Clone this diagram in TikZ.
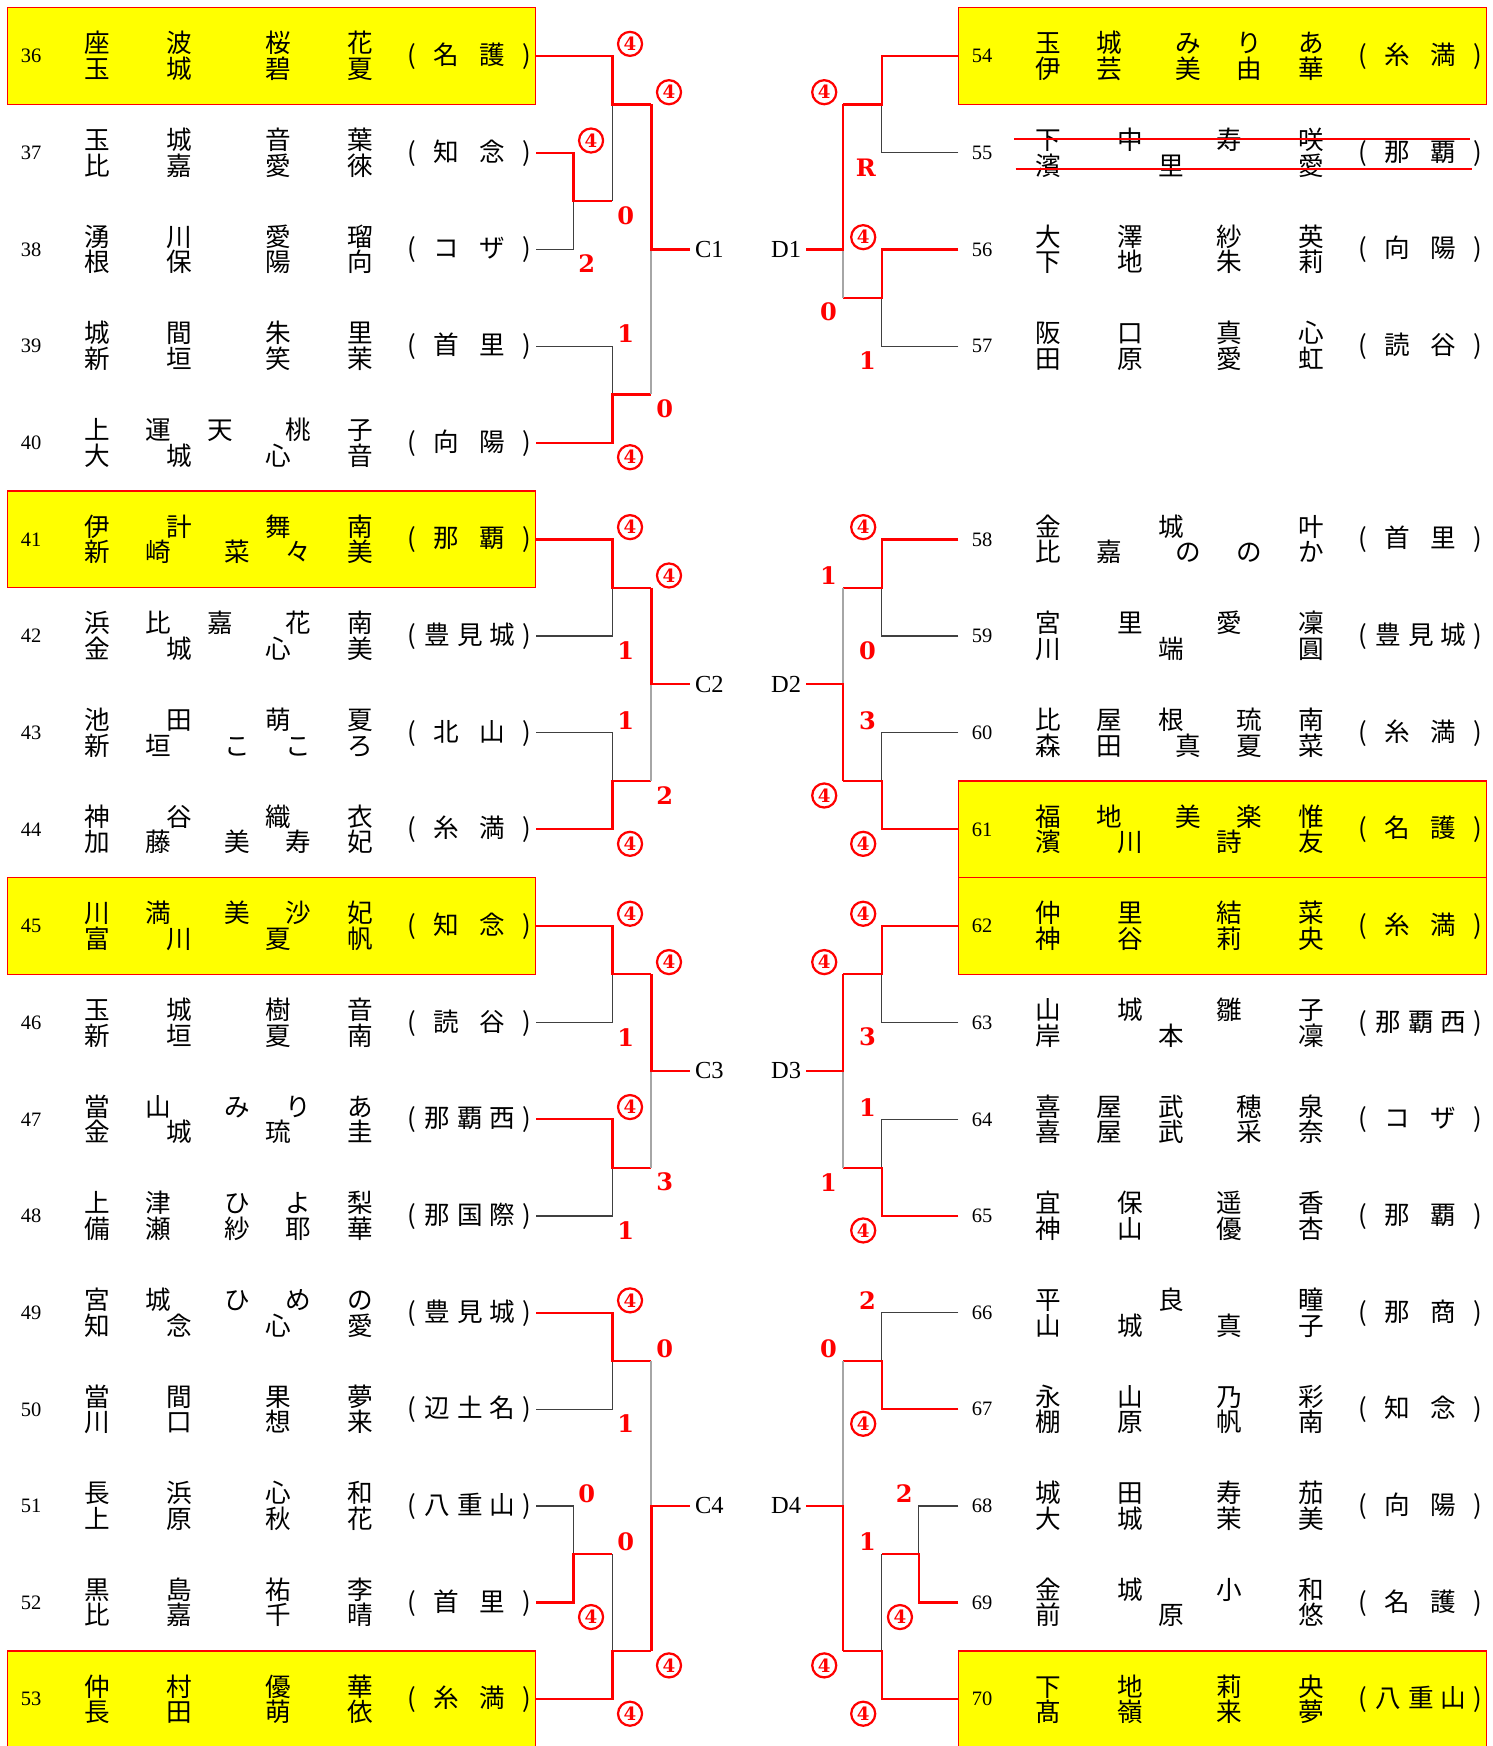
\documentclass[tikz,border=0pt]{standalone}
\usepackage{fontspec}
\setmainfont{Liberation Serif}
\newfontfamily\jpfont{Noto Sans CJK JP}
\newfontfamily\scfont{DejaVu Serif}
\usetikzlibrary{positioning}
\definecolor{hilite}{HTML}{FFFF00}
\definecolor{redline}{HTML}{FF0000}

% half-row grid
\tikzset{declare function={hh(\n)=50.4+43.4*\n;}}

% name lines: 2+2, 3+2, 2+3, 1+1+1
\newcommand\nfour[4]{\foreach \px/\ch [count=\ci] in {87/#1,161/#2,250/#3,324/#4}{\node[jp] (\eid\lnid\ci) at (\px+\xo,\ly) {\ch};}}
\newcommand\nfivea[5]{\foreach \px/\ch [count=\ci] in {87/#1,142/#2,198/#3,268/#4,324/#5}{\node[jp] (\eid\lnid\ci) at (\px+\xo,\ly) {\ch};}}
\newcommand\nfiveb[5]{\foreach \px/\ch [count=\ci] in {87/#1,142/#2,213/#3,268/#4,324/#5}{\node[jp] (\eid\lnid\ci) at (\px+\xo,\ly) {\ch};}}
\newcommand\nthree[3]{\foreach \px/\ch [count=\ci] in {87/#1,198/#2,324/#3}{\node[jp] (\eid\lnid\ci) at (\px+\xo,\ly) {\ch};}}
% school
\newcommand\sctwo[2]{\foreach \px/\ch [count=\ci] in {370/(,401/#1,442/#2,473/)}{\node[jp] (\eid s\ci) at (\px+\xo,\ly) {\ch};}}
\newcommand\scthree[3]{\foreach \px/\ch [count=\ci] in {370/(,393/#1,422/#2,451/#3,473/)}{\node[jp] (\eid s\ci) at (\px+\xo,\ly) {\ch};}}

% one entry row: id, side offset, row, style, top name, bottom name, school
\newcommand\entry[7]{%
  \pgfmathsetmacro\yy{50.4+86.8*#3}%
  \def\xo{#2}\def\eid{t#1}%
  \node[#4] (e#1) at (244+#2,\yy) {};
  \node[num] (n#1) at (28+#2,\yy) {#1};
  \pgfmathsetmacro\ly{\yy-10.5}\def\lnid{a}#5
  \pgfmathsetmacro\ly{\yy+12.5}\def\lnid{b}#6
  \pgfmathsetmacro\ly{\yy}#7
}

% scores (optional style: ring)
\newcommand\sctl[5][]{\node[sco,#1,anchor=west] (#2) at (#3+4,{hh(#4)-11}) {#5};}
\newcommand\scbl[5][]{\node[sco,#1,anchor=west] (#2) at (#3+4,{hh(#4)+13}) {#5};}
\newcommand\sctr[5][]{\node[sco,#1,anchor=east] (#2) at (#3-5,{hh(#4)-11}) {#5};}
\newcommand\scbr[5][]{\node[sco,#1,anchor=east] (#2) at (#3-5,{hh(#4)+13}) {#5};}

\begin{document}
\begin{tikzpicture}[x=0.5pt,y=-0.5pt,
  jp/.style={font=\jpfont\fontsize{11.5}{12}\selectfont, inner sep=0pt, text height=0.88em, text depth=0.12em},
  num/.style={font=\fontsize{9.2}{10}\selectfont, inner sep=0pt},
  seed/.style={draw=redline, fill=hilite, line width=0.6pt, minimum width=237pt, minimum height=43.4pt, inner sep=0pt},
  slot/.style={minimum width=237pt, minimum height=43.4pt, inner sep=0pt},
  win/.style={draw=redline, line width=1pt},
  lose/.style={draw=black!75, line width=0.5pt},
  fade/.style={draw=black!35, line width=0.9pt},
  sco/.style={text=redline, inner sep=0pt, font=\scfont\bfseries\fontsize{10.8}{11}\selectfont},
  ring/.style={circle, draw=redline, line width=1pt, minimum size=10.8pt, font=\scfont\bfseries\fontsize{8.2}{9}\selectfont},
  blk/.style={font=\fontsize{11}{12}\selectfont, inner sep=2pt},
  strike/.style={draw=redline, line width=0.8pt},
]
\useasboundingbox (0,0) rectangle (1340,1568);

% left block
\entry{36}{0}{0}{seed}{\nfour 座波桜花}{\nfour 玉城碧夏}{\sctwo 名護}
\entry{37}{0}{1}{slot}{\nfour 玉城音葉}{\nfour 比嘉愛徠}{\sctwo 知念}
\entry{38}{0}{2}{slot}{\nfour 湧川愛瑠}{\nfour 根保陽向}{\sctwo コザ}
\entry{39}{0}{3}{slot}{\nfour 城間朱里}{\nfour 新垣笑茉}{\sctwo 首里}
\entry{40}{0}{4}{slot}{\nfivea 上運天桃子}{\nfour 大城心音}{\sctwo 向陽}
\entry{41}{0}{5}{seed}{\nfour 伊計舞南}{\nfiveb 新崎菜々美}{\sctwo 那覇}
\entry{42}{0}{6}{slot}{\nfivea 浜比嘉花南}{\nfour 金城心美}{\scthree 豊見城}
\entry{43}{0}{7}{slot}{\nfour 池田萌夏}{\nfiveb 新垣こころ}{\sctwo 北山}
\entry{44}{0}{8}{slot}{\nfour 神谷織衣}{\nfiveb 加藤美寿妃}{\sctwo 糸満}
\entry{45}{0}{9}{seed}{\nfiveb 川満美沙妃}{\nfour 富川夏帆}{\sctwo 知念}
\entry{46}{0}{10}{slot}{\nfour 玉城樹音}{\nfour 新垣夏南}{\sctwo 読谷}
\entry{47}{0}{11}{slot}{\nfiveb 當山みりあ}{\nfour 金城琉圭}{\scthree 那覇西}
\entry{48}{0}{12}{slot}{\nfiveb 上津ひよ梨}{\nfiveb 備瀬紗耶華}{\scthree 那国際}
\entry{49}{0}{13}{slot}{\nfiveb 宮城ひめの}{\nfour 知念心愛}{\scthree 豊見城}
\entry{50}{0}{14}{slot}{\nfour 當間果夢}{\nfour 川口想来}{\scthree 辺土名}
\entry{51}{0}{15}{slot}{\nfour 長浜心和}{\nfour 上原秋花}{\scthree 八重山}
\entry{52}{0}{16}{slot}{\nfour 黒島祐李}{\nfour 比嘉千晴}{\sctwo 首里}
\entry{53}{0}{17}{seed}{\nfour 仲村優華}{\nfour 長田萌依}{\sctwo 糸満}

% right block
\entry{54}{854}{0}{seed}{\nfiveb 玉城みりあ}{\nfiveb 伊芸美由華}{\sctwo 糸満}
\entry{55}{854}{1}{slot}{\nfour 下中寿咲}{\nthree 濱里愛}{\sctwo 那覇}
\entry{56}{854}{2}{slot}{\nfour 大澤紗英}{\nfour 下地朱莉}{\sctwo 向陽}
\entry{57}{854}{3}{slot}{\nfour 阪口真心}{\nfour 田原愛虹}{\sctwo 読谷}
\entry{58}{854}{5}{slot}{\nthree 金城叶}{\nfiveb 比嘉ののか}{\sctwo 首里}
\entry{59}{854}{6}{slot}{\nfour 宮里愛凜}{\nthree 川端圓}{\scthree 豊見城}
\entry{60}{854}{7}{slot}{\nfivea 比屋根琉南}{\nfiveb 森田真夏菜}{\sctwo 糸満}
\entry{61}{854}{8}{seed}{\nfiveb 福地美楽惟}{\nfour 濱川詩友}{\sctwo 名護}
\entry{62}{854}{9}{seed}{\nfour 仲里結菜}{\nfour 神谷莉央}{\sctwo 糸満}
\entry{63}{854}{10}{slot}{\nfour 山城雛子}{\nthree 岸本凜}{\scthree 那覇西}
\entry{64}{854}{11}{slot}{\nfivea 喜屋武穂泉}{\nfivea 喜屋武采奈}{\sctwo コザ}
\entry{65}{854}{12}{slot}{\nfour 宜保遥香}{\nfour 神山優杏}{\sctwo 那覇}
\entry{66}{854}{13}{slot}{\nthree 平良瞳}{\nfour 山城真子}{\sctwo 那商}
\entry{67}{854}{14}{slot}{\nfour 永山乃彩}{\nfour 棚原帆南}{\sctwo 知念}
\entry{68}{854}{15}{slot}{\nfour 城田寿茄}{\nfour 大城茉美}{\sctwo 向陽}
\entry{69}{854}{16}{slot}{\nfour 金城小和}{\nthree 前原悠}{\sctwo 名護}
\entry{70}{854}{17}{seed}{\nfour 下地莉央}{\nfour 髙嶺来夢}{\scthree 八重山}

% withdrawn pair
\draw[strike] (911,124.5) -- (1320,124.5);
\draw[strike] (912,152) -- (1322,152);

% block labels
\node[blk] (c1) at (637,{hh(4)}) {C1};
\node[blk] (c2) at (637,{hh(13)}) {C2};
\node[blk] (c3) at (637,{hh(21)}) {C3};
\node[blk] (c4) at (637,{hh(30)}) {C4};
\node[blk] (d1) at (706,{hh(4)}) {D1};
\node[blk] (d2) at (706,{hh(13)}) {D2};
\node[blk] (d3) at (706,{hh(21)}) {D3};
\node[blk] (d4) at (706,{hh(30)}) {D4};

% C1
\draw[lose] (e38.east) -| (515,{hh(3)});
\draw[win] (e37.east) -| (515,{hh(3)}) -- (550,{hh(3)});
\draw[lose] (550,{hh(3)}) -- (550,{hh(1)});
\draw[win] (e36.east) -| (550,{hh(1)}) -- (585,{hh(1)});
\draw[lose] (e39.east) -| (550,{hh(7)});
\draw[win] (e40.east) -| (550,{hh(7)}) -- (585,{hh(7)});
\draw[fade] (585,{hh(7)}) -- (585,{hh(4)});
\draw[win] (585,{hh(1)}) |- (c1.west);
% C2
\draw[lose] (e42.east) -| (550,{hh(11)});
\draw[win] (e41.east) -| (550,{hh(11)}) -- (585,{hh(11)});
\draw[lose] (e43.east) -| (550,{hh(15)});
\draw[win] (e44.east) -| (550,{hh(15)}) -- (585,{hh(15)});
\draw[fade] (585,{hh(15)}) -- (585,{hh(13)});
\draw[win] (585,{hh(11)}) |- (c2.west);
% C3
\draw[lose] (e46.east) -| (550,{hh(19)});
\draw[win] (e45.east) -| (550,{hh(19)}) -- (585,{hh(19)});
\draw[lose] (e48.east) -| (550,{hh(23)});
\draw[win] (e47.east) -| (550,{hh(23)}) -- (585,{hh(23)});
\draw[fade] (585,{hh(23)}) -- (585,{hh(21)});
\draw[win] (585,{hh(19)}) |- (c3.west);
% C4
\draw[lose] (e50.east) -| (550,{hh(27)});
\draw[win] (e49.east) -| (550,{hh(27)}) -- (585,{hh(27)});
\draw[lose] (e51.east) -| (515,{hh(31)});
\draw[win] (e52.east) -| (515,{hh(31)}) -- (550,{hh(31)});
\draw[lose] (550,{hh(31)}) -- (550,{hh(33)});
\draw[win] (e53.east) -| (550,{hh(33)}) -- (585,{hh(33)});
\draw[fade] (585,{hh(27)}) -- (585,{hh(30)});
\draw[win] (585,{hh(33)}) |- (c4.west);

% D1
\draw[lose] (e55.west) -| (792,{hh(1)});
\draw[win] (e54.west) -| (792,{hh(1)}) -- (757,{hh(1)});
\draw[lose] (e57.west) -| (792,{hh(5)});
\draw[win] (e56.west) -| (792,{hh(5)}) -- (757,{hh(5)});
\draw[fade] (757,{hh(5)}) -- (757,{hh(4)});
\draw[win] (757,{hh(1)}) |- (d1.east);
% D2
\draw[lose] (e59.west) -| (792,{hh(11)});
\draw[win] (e58.west) -| (792,{hh(11)}) -- (757,{hh(11)});
\draw[lose] (e60.west) -| (792,{hh(15)});
\draw[win] (e61.west) -| (792,{hh(15)}) -- (757,{hh(15)});
\draw[fade] (757,{hh(11)}) -- (757,{hh(13)});
\draw[win] (757,{hh(15)}) |- (d2.east);
% D3
\draw[lose] (e63.west) -| (792,{hh(19)});
\draw[win] (e62.west) -| (792,{hh(19)}) -- (757,{hh(19)});
\draw[lose] (e64.west) -| (792,{hh(23)});
\draw[win] (e65.west) -| (792,{hh(23)}) -- (757,{hh(23)});
\draw[fade] (757,{hh(23)}) -- (757,{hh(21)});
\draw[win] (757,{hh(19)}) |- (d3.east);
% D4
\draw[lose] (e66.west) -| (792,{hh(27)});
\draw[win] (e67.west) -| (792,{hh(27)}) -- (757,{hh(27)});
\draw[lose] (e68.west) -| (825,{hh(31)});
\draw[win] (e69.west) -| (825,{hh(31)}) -- (792,{hh(31)});
\draw[lose] (792,{hh(31)}) -- (792,{hh(33)});
\draw[win] (e70.west) -| (792,{hh(33)}) -- (757,{hh(33)});
\draw[fade] (757,{hh(27)}) -- (757,{hh(30)});
\draw[win] (757,{hh(33)}) |- (d4.east);

% scores, left
\sctl[ring]{s1}{515}{2}{4}  \scbl{s2}{515}{4}{2}
\sctl[ring]{s3}{550}{0}{4}  \scbl{s4}{550}{3}{0}
\sctl{s5}{550}{6}{1}        \scbl[ring]{s6}{550}{8}{4}
\sctl[ring]{s7}{585}{1}{4}  \scbl{s8}{585}{7}{0}
\sctl[ring]{s9}{550}{10}{4} \scbl{s10}{550}{12}{1}
\sctl{s11}{550}{14}{1}      \scbl[ring]{s12}{550}{16}{4}
\sctl[ring]{s13}{585}{11}{4} \scbl{s14}{585}{15}{2}
\sctl[ring]{s15}{550}{18}{4} \scbl{s16}{550}{20}{1}
\sctl[ring]{s17}{550}{22}{4} \scbl{s18}{550}{24}{1}
\sctl[ring]{s19}{585}{19}{4} \scbl{s20}{585}{23}{3}
\sctl[ring]{s21}{550}{26}{4} \scbl{s22}{550}{28}{1}
\sctl{s23}{515}{30}{0}       \scbl[ring]{s24}{515}{32}{4}
\sctl{s25}{550}{31}{0}       \scbl[ring]{s26}{550}{34}{4}
\sctl{s27}{585}{27}{0}       \scbl[ring]{s28}{585}{33}{4}
% scores, right
\scbr{s29}{792}{2}{R}
\sctr[ring]{s30}{792}{4}{4}  \scbr{s31}{792}{6}{1}
\sctr[ring]{s32}{757}{1}{4}  \scbr{s33}{757}{5}{0}
\sctr[ring]{s34}{792}{10}{4} \scbr{s35}{792}{12}{0}
\sctr{s36}{792}{14}{3}       \scbr[ring]{s37}{792}{16}{4}
\sctr{s38}{757}{11}{1}       \scbr[ring]{s39}{757}{15}{4}
\sctr[ring]{s40}{792}{18}{4} \scbr{s41}{792}{20}{3}
\sctr{s42}{792}{22}{1}       \scbr[ring]{s43}{792}{24}{4}
\sctr[ring]{s44}{757}{19}{4} \scbr{s45}{757}{23}{1}
\sctr{s46}{792}{26}{2}       \scbr[ring]{s47}{792}{28}{4}
\sctr{s48}{825}{30}{2}       \scbr[ring]{s49}{825}{32}{4}
\sctr{s50}{792}{31}{1}       \scbr[ring]{s51}{792}{34}{4}
\sctr{s52}{757}{27}{0}       \scbr[ring]{s53}{757}{33}{4}
\end{tikzpicture}
\end{document}
